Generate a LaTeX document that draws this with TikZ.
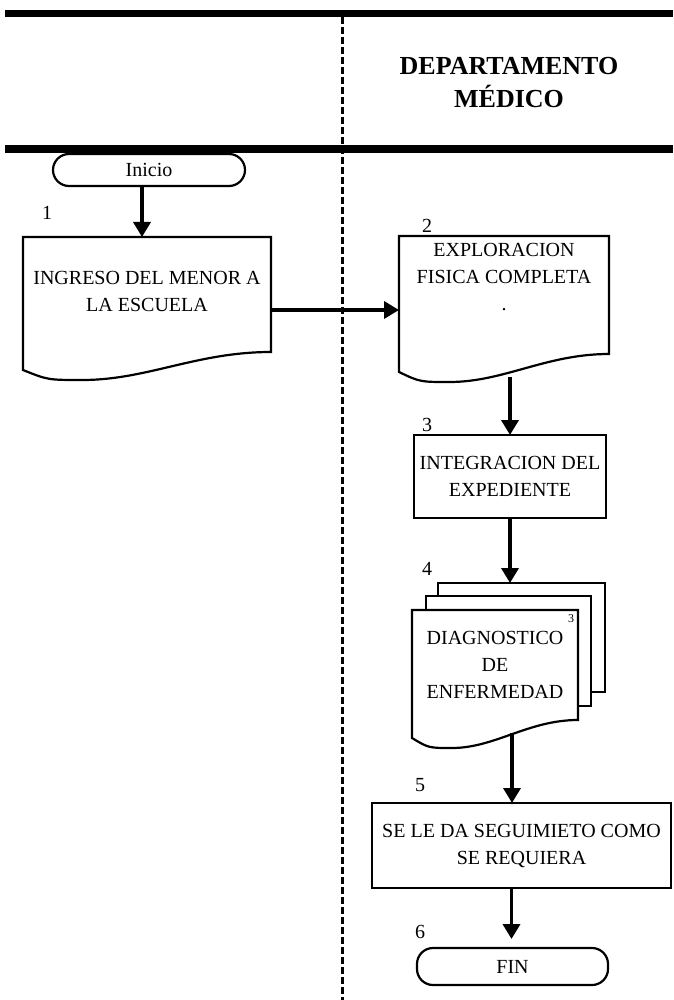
\documentclass[tikz,border=0pt]{standalone}
\usepackage{fontspec}
\setmainfont{Liberation Serif}
\usetikzlibrary{arrows.meta,calc}

% contorno de documento con borde inferior ondulado
\newcommand{\hojaborde}[2]{%
\draw[line width=2.2pt] let \p1=(#1.south west), \p2=(#1.north east), \n1={\x2-\x1} in
  (#1.north west) -- (#1.north east) -- ({\x2},{\y1-#2})
  .. controls ({\x2-0.3*\n1},{\y1-#2}) and ({\x1+0.5*\n1},{\y1-#2-28pt}) .. ({\x1+0.24*\n1},{\y1-#2-28pt})
  .. controls ({\x1+0.1*\n1},{\y1-#2-28pt}) .. ({\x1},{\y1-#2-18pt}) -- cycle;}

\begin{document}
\begin{tikzpicture}[x=1pt, y=-1pt,
  texto/.style={font=\fontsize{20}{27}\selectfont},
  caja/.style={texto, draw, line width=2.2pt, align=center, inner sep=0pt, outer sep=0pt},
  terminal/.style={caja, rounded corners=16pt},
  doc/.style={texto, align=center, inner sep=0pt, outer sep=0pt},
  hoja/.style={draw, fill=white, line width=2.2pt, inner sep=0pt, outer sep=0pt},
  flecha/.style={line width=3.6pt, -{Triangle[length=15pt,width=17pt]}}]
\useasboundingbox (0,0) rectangle (673,1000);

% encabezado y carriles
\fill (5,10) rectangle (673,17);
\fill (5,145) rectangle (673,153);
\draw[line width=3pt, dash pattern=on 7pt off 3pt] (342,17) -- (342,1000);
\node[align=center, font=\bfseries\fontsize{26}{33}\selectfont] (depto) at (509,82.5) {DEPARTAMENTO\\MÉDICO};

% actividades
\node[terminal, minimum width=192pt, minimum height=32pt] (inicio) at (149,170) {Inicio};
\node[texto] (n1) at (47,213) {1};
\node[doc, minimum width=248pt, minimum height=108pt] (ingreso) at (147,291) {INGRESO DEL MENOR A\\LA ESCUELA};
\hojaborde{ingreso}{7pt}

\node[texto] (n2) at (427,226) {2};
\node[doc, minimum width=210pt, minimum height=82pt] (exploracion) at (504,277) {EXPLORACION\\FISICA COMPLETA\\.};
\hojaborde{exploracion}{36pt}

\node[texto] (n3) at (427,425) {3};
\node[caja, minimum width=192pt, minimum height=83pt] (integracion) at (510,476.5) {INTEGRACION DEL\\EXPEDIENTE};

\node[texto] (n4) at (427,569) {4};
\node[hoja, minimum width=167pt, minimum height=109pt] (hoja3) at (521.5,637.5) {};
\node[hoja, minimum width=165pt, minimum height=110pt] (hoja2) at (508.5,651) {};
\node[doc, fill=white, minimum width=166pt, minimum height=110pt] (diagnostico) at (495,665) {DIAGNOSTICO\\DE\\ENFERMEDAD};
\hojaborde{diagnostico}{0pt}
\node[font=\fontsize{12}{14}\selectfont] (copias) at (571,619) {3};

\node[texto] (n5) at (420,785) {5};
\node[caja, minimum width=299pt, minimum height=85pt] (seguimiento) at (521.5,845.5) {SE LE DA SEGUIMIETO COMO\\SE REQUIERA};

\node[texto] (n6) at (420,932) {6};
\node[terminal, minimum width=191pt, minimum height=37pt] (fin) at (512.5,966.5) {FIN};

% flujo
\coordinate (s1) at ($(ingreso.east)+(0,19)$);
\coordinate (s2) at ([yshift=-59pt]exploracion.south);
\coordinate (s3) at ([xshift=17pt,yshift=-13pt]diagnostico.south);
\coordinate (s4) at ([xshift=-10pt]seguimiento.south);
\draw[flecha] ([xshift=-7pt]inicio.south) -- ([xshift=-7pt]inicio.south |- ingreso.north);
\draw[flecha] (s1) -- (s1 -| exploracion.west);
\draw[flecha] (s2 -| integracion.north) -- (integracion.north);
\draw[flecha] (integracion.south) -- (integracion.south |- hoja3.north);
\draw[flecha] (s3) -- (s3 |- seguimiento.north);
\draw[flecha, shorten >=9pt] (s4) -- (s4 |- fin.north);
\end{tikzpicture}
\end{document}
